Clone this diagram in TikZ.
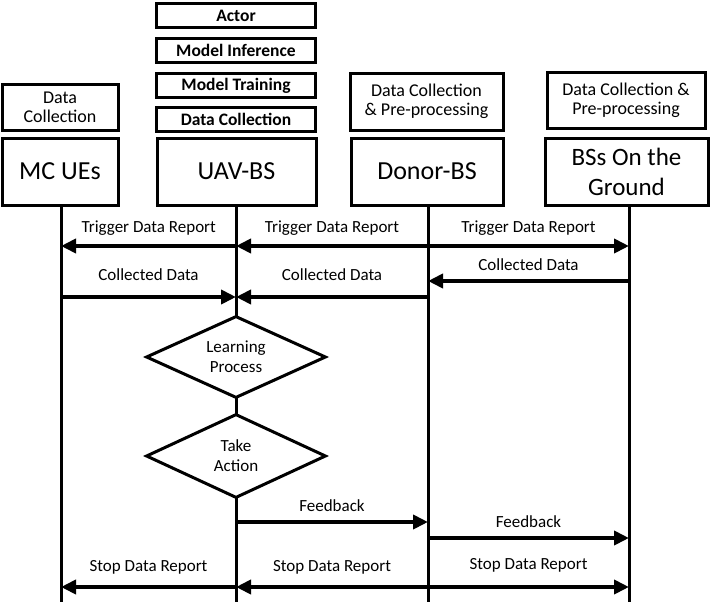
\documentclass[tikz,border=0pt]{standalone}
\usepackage{fontspec}
\setmainfont{Carlito}
\usetikzlibrary{arrows.meta,shapes.geometric}

\begin{document}
\begin{tikzpicture}[x=1pt, y=-1pt,
  entity/.style={draw, line width=3pt, minimum height=67pt, inner sep=2pt,
    align=center, font=\fontsize{26}{27}\selectfont},
  task/.style={draw, line width=3pt, inner sep=1pt, align=center,
    font=\fontsize{18}{19}\selectfont},
  stack/.style={task, minimum width=159pt, minimum height=24pt, font=\fontsize{17.5}{18}\selectfont\bfseries},
  life/.style={line width=3pt},
  msg/.style={line width=4pt, -{Triangle[length=15pt, width=14pt]}},
  lbl/.style={font=\fontsize{17}{18}\selectfont, above=5pt},
  decide/.style={diamond, draw, line width=3pt, fill=white, inner sep=0pt,
    shape aspect=2.2, minimum width=180pt, minimum height=82pt,
    align=center, font=\fontsize{17}{20}\selectfont}
]
\useasboundingbox (0,0) rectangle (723,605);

% Main entities
\node[entity, minimum width=116pt] (ue) at (60,171.5) {MC UEs};
\node[entity, minimum width=159pt] (uav) at (236.5,171.5) {UAV-BS};
\node[entity, minimum width=152pt] (donor) at (427,171.5) {Donor-BS};
\node[entity, minimum width=163pt, font=\fontsize{25}{30}\selectfont] (bs) at (626.5,171.5) {BSs On the\\Ground};

% Tasks on top of each entity
\node[task, minimum width=116pt, minimum height=46pt] (ue-task) at (60,107) {Data\\Collection};
\node[task, minimum width=153pt, minimum height=57pt] (donor-task) at (426.5,101.5) {Data Collection\\\& Pre-processing};
\node[task, minimum width=158pt, minimum height=56pt] (bs-task) at (626,100) {Data Collection \&\\Pre-processing};
\foreach \y/\nm/\txt in {15.5/actor/Actor, 50.5/infer/Model Inference,
  85.5/train/Model Training, 119/collect/Data Collection}
  \node[stack] (uav-\nm) at (236,\y) {\txt};

% Lifelines
\foreach \ent/\x in {ue/61, uav/236, donor/428, bs/629}{
  \coordinate (\ent-end) at (\x,602);
  \draw[life] (\ent.south -| \ent-end) -- (\ent-end);
}

% Trigger data report
\draw[msg] (uav |- 0,246) -- (ue-end |- 0,246) node[lbl, midway] {Trigger Data Report};
\draw[msg] (donor-end |- 0,246) -- (uav-end |- 0,246) node[lbl, midway] {Trigger Data Report};
\draw[msg] (donor-end |- 0,246) -- (bs-end |- 0,246) node[lbl, midway] {Trigger Data Report};

% Collected data
\draw[msg] (ue-end |- 0,297) -- (uav-end |- 0,297) node[lbl, midway, above=6pt] {Collected Data};
\draw[msg] (donor-end |- 0,297) -- (uav-end |- 0,297) node[lbl, midway, above=6pt] {Collected Data};
\draw[msg] (bs-end |- 0,281) -- (donor-end |- 0,281) node[lbl, midway] {Collected Data};

% Learning and action at the UAV-BS
\node[decide] (learn) at (236,357) {Learning\\Process};
\node[decide, minimum height=84pt] (act) at (236,456) {Take\\Action};

% Feedback
\draw[msg] (uav-end |- 0,522) -- (donor-end |- 0,522) node[lbl, midway] {Feedback};
\draw[msg] (donor-end |- 0,538) -- (bs-end |- 0,538) node[lbl, midway] {Feedback};

% Stop data report
\draw[msg] (uav-end |- 0,587) -- (ue-end |- 0,587) node[lbl, midway, above=2pt] {Stop Data Report};
\draw[msg] (donor-end |- 0,587) -- (uav-end |- 0,587) node[lbl, midway, above=2pt] {Stop Data Report};
\draw[msg] (donor-end |- 0,587) -- (bs-end |- 0,587) node[lbl, midway, above=4pt] {Stop Data Report};

\end{tikzpicture}
\end{document}
